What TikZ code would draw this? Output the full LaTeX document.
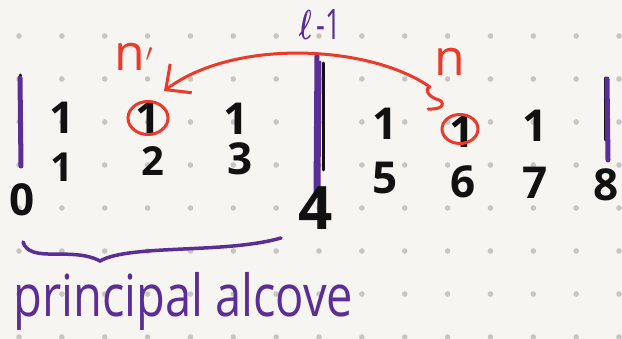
\documentclass[tikz,border=0pt]{standalone}
\usepackage{fontspec}
\setmainfont{Open Sans}
\usetikzlibrary{arrows.meta,shapes.geometric}
\definecolor{paper}{HTML}{F7F5F1}
\definecolor{gridgray}{HTML}{C8C6C2}
\definecolor{ink}{HTML}{111111}
\definecolor{pen}{HTML}{5B2D96}
\definecolor{marker}{HTML}{EB3A2A}
\tikzset{
  digit/.style={inner sep=0pt, text=ink, font=\fontsize{44}{44}\selectfont\bfseries},
  bitmark/.style={inner sep=0pt, text=ink, font=\fontsize{44}{44}\selectfont\bfseries},
  ringmark/.style={draw=marker, line width=3pt, ellipse, inner sep=0pt},
  redlabel/.style={inner sep=0pt, text=marker, font=\fontsize{50}{50}\selectfont},
  bar/.style={draw=pen, line width=5pt, line cap=round},
  barink/.style={draw=ink, line width=3pt, line cap=round},
}
\begin{document}
\begin{tikzpicture}[x=1pt,y=-1pt]
  % paper and dot grid
  \fill[paper] (0,0) rectangle (622,339);
  \useasboundingbox (0,0) rectangle (622,339);
  \foreach \i in {0,...,14}
    \foreach \j in {0,...,7}
      \fill[gridgray] ({19+42.86*\i},{36+43*\j}) circle (2.8pt);

  % bit values
  \node[bitmark] (b1) at (62,118) {1};
  \node[bitmark] (b2) at (148,118) {1};
  \node[bitmark] (b3) at (236,119) {1};
  \node[bitmark] (b5) at (385,124) {1};
  \node[bitmark] (b6) at (462,132) {1};
  \node[bitmark] (b7) at (535,126) {1};

  % block boundaries
  \draw[barink] (20,75) -- (20,88);
  \draw[bar] (20,78) -- (21,166);
  \draw[barink] (323,63) -- (323,170);
  \draw[bar] (317,56) -- (316,196);
  \draw[draw=pen, line width=3pt, line cap=round] (320,62) -- (319,188);
  \draw[barink] (605,78) -- (605,140);
  \draw[bar] (607,79) -- (608,160);

  % indices
  \node[digit] (i0) at (22,200) {0};
  \node[digit, font=\fontsize{40}{40}\selectfont\bfseries] (i1) at (62,167) {1};
  \node[digit, font=\fontsize{40}{40}\selectfont\bfseries] (i2) at (153,161) {2};
  \node[digit] (i3) at (240,159) {3};
  \node[digit, font=\fontsize{60}{60}\selectfont\bfseries] (i4) at (316,208) {4};
  \node[digit] (i5) at (385,178) {5};
  \node[digit] (i6) at (463,182) {6};
  \node[digit] (i7) at (535,183) {7};
  \node[digit] (i8) at (606,185) {8};

  % highlighted bits
  \node[ringmark, minimum width=40pt, minimum height=33pt] (r2) at (148,118) {};
  \node[ringmark, minimum width=36pt, minimum height=29pt] (r6) at (460,129) {};

  % labels
  \node[redlabel] (np) at (134,57) {n$'$};
  \node[redlabel] (n) at (450,62) {n};
  \node[inner sep=0pt, text=pen] (blk) at (320,25)
    {\resizebox*{42pt}{30pt}{\boldmath$\ell$\,-1}};

  % jump from n to n'
  \coordinate (tail) at (428,109);
  \coordinate (loopa) at (436,99);
  \coordinate (start) at (430,87);
  \coordinate (tip) at (164,91);
  \draw[marker, line width=3pt, line cap=round, line join=round,
        -{Straight Barb[length=19pt, width=36pt, line width=3pt]}]
    (tail) .. controls (445,110) and (446,101) .. (loopa)
           .. controls (428,96) and (424,88) .. (start)
           .. controls (370,45) and (235,38) .. (tip);

  % brace under the first block
  \coordinate (bl) at (23,242);
  \coordinate (bm) at (100,261);
  \coordinate (br) at (281,238);
  \draw[pen, line width=3.5pt, line cap=round]
    (bl) .. controls (30,264) and (72,246) .. (bm)
         .. controls (130,244) and (225,254) .. (br);

  \node[anchor=west, inner sep=0pt, text=pen] (cap) at (13,301)
    {\resizebox*{340pt}{58pt}{principal alcove}};
\end{tikzpicture}
\end{document}
